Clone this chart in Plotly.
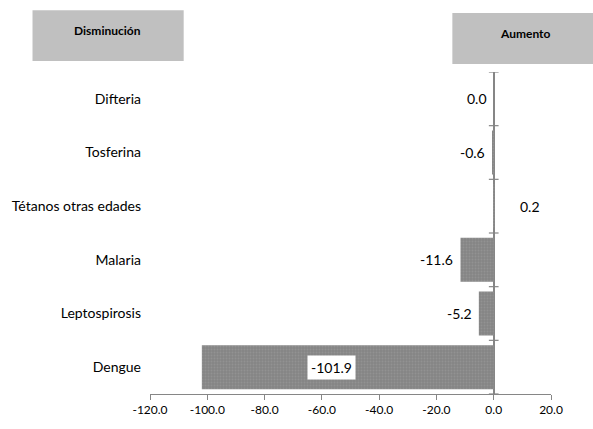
import plotly.graph_objects as go

categories = ["Dengue", "Leptospirosis", "Malaria", "Tétanos otras edades", "Tosferina", "Difteria"]
values = [-101.9, -5.2, -11.6, 0.2, -0.6, 0.0]
tick_vals = [-120, -100, -80, -60, -40, -20, 0, 20]
tick_text = ["-120.0", "-100.0", "-80.0", "-60.0", "-40.0", "-20.0", "0.0", "20.0"]

FONT = "Lato, Roboto, sans-serif"

fig = go.Figure()
fig.add_trace(go.Bar(
    y=categories, x=values, orientation="h",
    marker=dict(color="#8a8a8a", line=dict(width=0),
                pattern=dict(shape=".", fgcolor="#a0a0a0", bgcolor="#858585", size=3, solidity=0.3)),
    width=0.82, showlegend=False, hoverinfo="x+y",
))

annotations = []
for cat, v in zip(categories, values):
    label = f"{v:.1f}"
    if v < -50:
        annotations.append(dict(x=v / 2, y=cat, text=label, showarrow=False, xshift=-16,
                                bgcolor="white", font=dict(size=14, color="black", family=FONT),
                                borderpad=3))
    elif v > 0:
        annotations.append(dict(x=v, y=cat, text=label, showarrow=False, xanchor="left", xshift=24,
                                font=dict(size=14, color="black", family=FONT)))
    else:
        annotations.append(dict(x=v, y=cat, text=label, showarrow=False, xanchor="right", xshift=-5,
                                font=dict(size=14, color="black", family=FONT)))

# header boxes
annotations.append(dict(xref="paper", yref="paper", x=-0.106, y=1.130, xanchor="center", yanchor="middle",
                        text="<b>Disminución</b>", showarrow=False,
                        font=dict(size=12, color="black", family=FONT)))
annotations.append(dict(xref="paper", yref="paper", x=0.936, y=1.121, xanchor="center", yanchor="middle",
                        text="<b>Aumento</b>", showarrow=False,
                        font=dict(size=12, color="black", family=FONT)))

shapes = [
    dict(type="rect", xref="paper", yref="paper", x0=-0.293, x1=0.084, y0=1.034, y1=1.192,
         fillcolor="#c0c0c0", line=dict(width=0), layer="below"),
    dict(type="rect", xref="paper", yref="paper", x0=0.754, x1=1.11, y0=1.025, y1=1.183,
         fillcolor="#c0c0c0", line=dict(width=0), layer="below"),
]
for i in range(len(categories) + 1):
    shapes.append(dict(type="line", xref="x", yref="y", x0=-1.7, x1=1.7, y0=i - 0.5, y1=i - 0.5,
                       line=dict(color="#868686", width=1.2)))

fig.update_layout(
    width=593, height=429,
    margin=dict(l=145, r=42, t=72, b=34),
    paper_bgcolor="white", plot_bgcolor="white",
    font=dict(family=FONT, color="black"),
    xaxis=dict(range=[-120, 20], tickvals=tick_vals, ticktext=tick_text,
               showgrid=False, zeroline=True, zerolinecolor="#868686", zerolinewidth=1.5,
               showline=True, linecolor="#868686", linewidth=1, ticks="outside", ticklen=5,
               tickcolor="#868686", tickfont=dict(size=12, family=FONT), fixedrange=True),
    yaxis=dict(showgrid=False, showline=False, ticks="", tickfont=dict(size=14, family=FONT),
               ticklabelstandoff=8, range=[-0.5, 5.5], fixedrange=True),
    annotations=annotations,
    shapes=shapes,
    bargap=0.18,
)

fig.write_html("out.html", post_script="document.body.style.margin='0';",
               config={"displayModeBar": False})
